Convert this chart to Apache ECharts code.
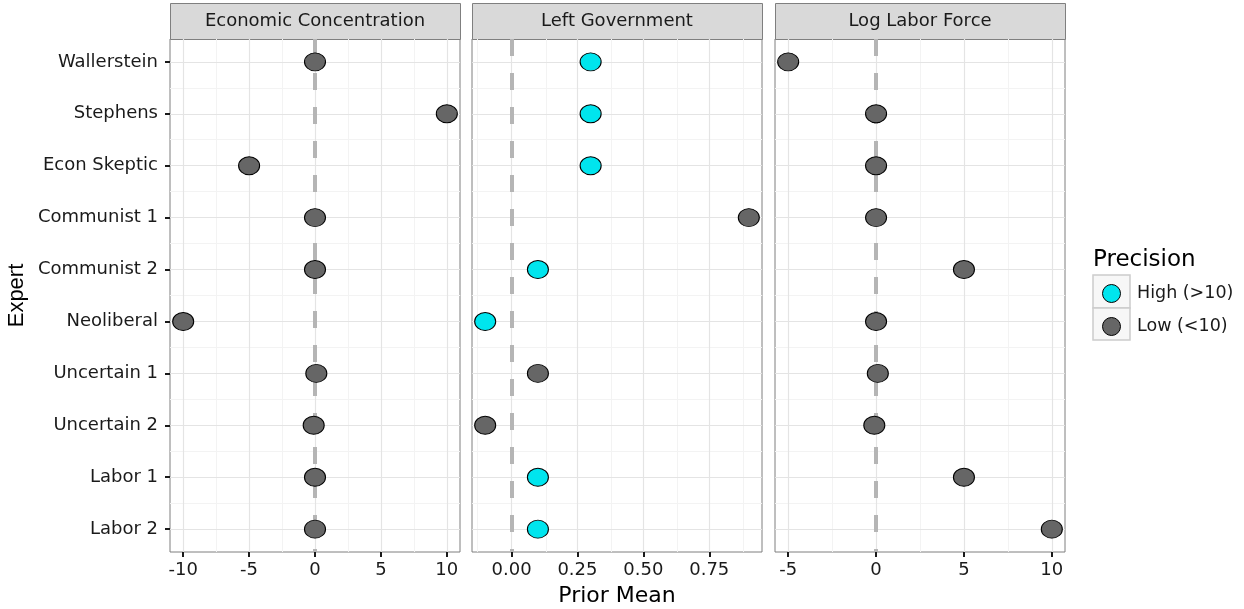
<!DOCTYPE html>
<html><head><meta charset="utf-8">
<script src="https://cdn.jsdelivr.net/npm/echarts@6/dist/echarts.min.js"></script>
<style>html,body{margin:0;padding:0;background:#fff}#c{width:1244px;height:609px}</style>
</head><body><div id="c"></div>
<script>
// ---------- data ----------
const experts = ['Wallerstein','Stephens','Econ Skeptic','Communist 1','Communist 2','Neoliberal','Uncertain 1','Uncertain 2','Labor 1','Labor 2'];
const panelTitles = ['Economic Concentration','Left Government','Log Labor Force'];
const econConcentration = [0, 10, -5, 0, 0, -10, 0.1, -0.1, 0, 0];
const leftGovernment    = [0.3, 0.3, 0.3, 0.9, 0.1, -0.1, 0.1, -0.1, 0.1, 0.1];
const logLaborForce     = [-5, 0, 0, 0, 5, 0, 0.1, -0.1, 5, 10];
const econPrecision     = ['Low','Low','Low','Low','Low','Low','Low','Low','Low','Low'];
const leftGovPrecision  = ['High','High','High','Low','High','High','Low','Low','High','High'];
const laborPrecision    = ['Low','Low','Low','Low','Low','Low','Low','Low','Low','Low'];
const precisionLabels = {High: 'High (>10)', Low: 'Low (<10)'};
const xTicks1 = [-10, -5, 0, 5, 10];
const xTicks2 = [0, 0.25, 0.5, 0.75];
const xTicks3 = [-5, 0, 5, 10];
const xTickLabels1 = ['-10','-5','0','5','10'];
const xTickLabels2 = ['0.00','0.25','0.50','0.75'];
const xTickLabels3 = ['-5','0','5','10'];
const xMinor1 = [-7.5, -2.5, 2.5, 7.5];
const xMinor2 = [-0.125, 0.125, 0.375, 0.625, 0.875];
const xMinor3 = [-2.5, 2.5, 7.5];

// ---------- layout / style ----------
const FONT = 'DejaVu Sans, sans-serif';
const FONT_V = 'Liberation Sans, Arial, sans-serif';
const panelLeft = [170, 472, 775];
const panelW = 290, panelTop = 39, panelH = 513;
const colors = {High: '#00E5EE', Low: '#666666'};
const ellipse = 'path://M0,50A50,50,0,1,1,100,50A50,50,0,1,1,0,50Z';

const panels = [
  {vals: econConcentration, prec: econPrecision, ticks: xTicks1, labels: xTickLabels1, minor: xMinor1},
  {vals: leftGovernment, prec: leftGovPrecision, ticks: xTicks2, labels: xTickLabels2, minor: xMinor2},
  {vals: logLaborForce, prec: laborPrecision, ticks: xTicks3, labels: xTickLabels3, minor: xMinor3}
];

function expandRange(arr) {
  const lo = Math.min(...arr), hi = Math.max(...arr), pad = (hi - lo) * 0.05;
  return [lo - pad, hi + pad];
}

const grid = [], xAxis = [], yAxis = [], series = [], graphic = [];
const yIdx = experts.map((_, i) => i);
const yMinor = experts.slice(1).map((_, i) => i + 0.5);

panels.forEach((p, k) => {
  grid.push({left: panelLeft[k], top: panelTop, width: panelW, height: panelH,
    outerBoundsMode: 'none', containLabel: false,
    show: true, backgroundColor: '#fff', borderColor: '#7f7f7f', borderWidth: 1});
  const r = expandRange(p.vals);
  xAxis.push({
    type: 'value', gridIndex: k, min: r[0], max: r[1], position: 'bottom',
    axisLine: {show: false, onZero: false}, splitLine: {show: false},
    axisTick: {show: true, customValues: p.ticks, length: 5, lineStyle: {color: '#1a1a1a', width: 2}},
    axisLabel: {customValues: p.ticks, margin: 9, fontSize: 18, fontFamily: FONT, color: '#1a1a1a',
      formatter: v => p.labels[p.ticks.indexOf(v)]},
    name: k === 1 ? 'Prior Mean' : '', nameLocation: 'middle', nameGap: 33,
    nameTextStyle: {fontSize: 22, fontFamily: FONT, color: '#000'}
  });
  yAxis.push({
    type: 'value', gridIndex: k, inverse: true, min: -0.44, max: 9.44, position: 'left',
    axisLine: {show: false, onZero: false}, splitLine: {show: false},
    axisTick: {show: k === 0, customValues: yIdx, length: 5, lineStyle: {color: '#1a1a1a', width: 2}},
    axisLabel: {show: k === 0, customValues: yIdx, margin: 12, fontSize: 18, fontFamily: FONT, color: '#1a1a1a',
      formatter: v => experts[v]},
    name: k === 0 ? 'Expert' : '', nameLocation: 'middle', nameGap: 142, nameRotate: 90,
    nameTextStyle: {fontSize: 22, fontFamily: FONT_V, color: '#000'}
  });
  const lineData = [];
  p.minor.forEach(v => lineData.push({xAxis: v, lineStyle: {color: '#f3f3f3', width: 1, type: 'solid'}}));
  yMinor.forEach(v => lineData.push({yAxis: v, lineStyle: {color: '#f3f3f3', width: 1, type: 'solid'}}));
  p.ticks.forEach(v => lineData.push({xAxis: v, lineStyle: {color: '#e4e4e4', width: 1.2, type: 'solid'}}));
  yIdx.forEach(v => lineData.push({yAxis: v, lineStyle: {color: '#e4e4e4', width: 1.2, type: 'solid'}}));
  lineData.push({xAxis: 0, lineStyle: {color: '#b5b5b5', width: 4, type: [17, 17]}});
  series.push({
    type: 'scatter', xAxisIndex: k, yAxisIndex: k, data: [], silent: true,
    markLine: {z: 1, silent: true, symbol: 'none', animation: false, label: {show: false},
      emphasis: {disabled: true}, data: lineData}
  });
  ['High', 'Low'].forEach(g => {
    const d = [];
    p.vals.forEach((v, i) => { if (p.prec[i] === g) d.push([v, i]); });
    series.push({
      type: 'scatter', name: precisionLabels[g], xAxisIndex: k, yAxisIndex: k, z: 10,
      symbol: ellipse, symbolKeepAspect: false, symbolSize: [21, 18], data: d,
      itemStyle: {color: colors[g], borderColor: '#000', borderWidth: 1, opacity: 1}
    });
  });
  graphic.push({type: 'rect', left: panelLeft[k], top: 3, silent: true, z: 1,
    shape: {width: panelW, height: panelTop - 3},
    style: {fill: '#d9d9d9', stroke: '#7f7f7f', lineWidth: 1}});
  graphic.push({type: 'text', x: panelLeft[k] + panelW / 2, y: 21, silent: true, z: 2,
    style: {text: panelTitles[k], fill: '#1a1a1a', font: '18px ' + FONT, align: 'center', verticalAlign: 'middle'}});
});

graphic.push({type: 'text', x: 1093, y: 260, silent: true,
  style: {text: 'Precision', fill: '#000', font: '23px ' + FONT, align: 'left', verticalAlign: 'middle'}});
graphic.push({type: 'rect', x: 1093, y: 275, silent: true, z: 0,
  shape: {width: 37, height: 33}, style: {fill: '#f7f7f7', stroke: '#cccccc', lineWidth: 1.5}});
graphic.push({type: 'rect', x: 1093, y: 308, silent: true, z: 0,
  shape: {width: 37, height: 32}, style: {fill: '#f7f7f7', stroke: '#cccccc', lineWidth: 1.5}});

const chart = echarts.init(document.getElementById('c'));
chart.setOption({
  backgroundColor: '#fff',
  animation: false,
  grid, xAxis, yAxis, series, graphic,
  legend: {
    orient: 'vertical', left: 1102, top: 284, padding: 0, itemGap: 14,
    itemWidth: 21, itemHeight: 18, selectedMode: false,
    data: [precisionLabels.High, precisionLabels.Low],
    itemStyle: {borderColor: '#000', borderWidth: 1},
    textStyle: {fontSize: 17.5, fontFamily: FONT, color: '#1a1a1a', padding: [0, 0, 0, 10]}
  }
});
</script></body></html>
